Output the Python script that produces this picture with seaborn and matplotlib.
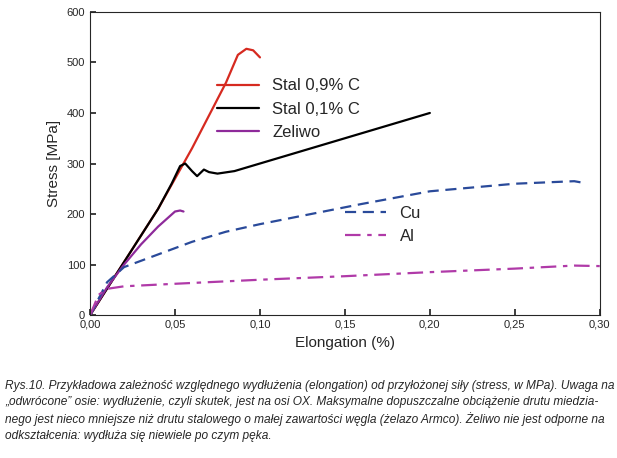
import matplotlib
matplotlib.use("Agg")
import matplotlib.pyplot as plt
import seaborn as sns

sns.set_theme(style="ticks")
plt.rcParams['font.family'] = ['Liberation Sans', 'DejaVu Sans']

# dane
st09_x = [0, 0.02, 0.04, 0.05, 0.06, 0.07, 0.08, 0.087, 0.092, 0.096, 0.1]
st09_y = [0, 105, 210, 270, 330, 395, 460, 515, 527, 524, 510]
st01_x = [0, 0.02, 0.04, 0.048, 0.053, 0.056, 0.06, 0.063, 0.067, 0.07, 0.075, 0.085, 0.1, 0.15, 0.2]
st01_y = [0, 105, 210, 260, 295, 300, 285, 275, 288, 283, 280, 285, 300, 350, 400]
zel_x = [0, 0.01, 0.02, 0.03, 0.04, 0.05, 0.053, 0.055]
zel_y = [0, 55, 100, 140, 175, 205, 207, 205]
cu_x = [0, 0.01, 0.02, 0.04, 0.06, 0.08, 0.1, 0.13, 0.16, 0.2, 0.25, 0.285, 0.29]
cu_y = [0, 65, 95, 120, 145, 165, 180, 200, 220, 245, 260, 265, 262]
al_x = [0, 0.005, 0.01, 0.02, 0.05, 0.1, 0.15, 0.2, 0.25, 0.285, 0.3]
al_y = [0, 40, 52, 57, 62, 70, 77, 85, 92, 98, 97]

fig = plt.figure(figsize=(6.17, 4.58), dpi=100)
ax = fig.add_axes([0.146, 0.312, 0.826, 0.662])

l1 = ax.plot(st09_x, st09_y, color='#d62a20', lw=1.6, label='Stal 0,9% C')[0]
l2 = ax.plot(st01_x, st01_y, color='black', lw=1.6, label='Stal 0,1% C')[0]
l3 = ax.plot(zel_x, zel_y, color='#8e2a9a', lw=1.6, label='Zeliwo')[0]
l4 = ax.plot(cu_x, cu_y, color='#2a4a9a', lw=1.6, ls=(0, (5, 3)), label='Cu')[0]
l5 = ax.plot(al_x, al_y, color='#b03aa8', lw=1.6, ls=(0, (7, 3, 2, 3)), label='Al')[0]

leg1 = ax.legend(handles=[l1, l2, l3], loc='upper left', bbox_to_anchor=(0.22, 0.83),
                 frameon=False, fontsize=12, handlelength=2.5)
ax.add_artist(leg1)
ax.legend(handles=[l4, l5], loc='upper left', bbox_to_anchor=(0.47, 0.41),
          frameon=False, fontsize=12, handlelength=2.5)

ax.set_xlim(0, 0.3)
ax.set_ylim(0, 600)
ax.set_xticks([0, 0.05, 0.1, 0.15, 0.2, 0.25, 0.3])
ax.set_xticklabels(['0,00', '0,05', '0,10', '0,15', '0,20', '0,25', '0,30'])
ax.set_yticks(range(0, 601, 100))
ax.tick_params(direction='in', labelsize=8, length=4)
ax.set_xlabel('Elongation (%)', fontsize=11)
ax.set_ylabel('Stress [MPa]', fontsize=11)
for s in ax.spines.values():
    s.set_linewidth(0.8)

caption = ("Rys.10. Przykładowa zależność względnego wydłużenia (elongation) od przyłożonej siły (stress, w MPa). Uwaga na\n"
           "„odwrócone\u201d osie: wydłużenie, czyli skutek, jest na osi OX. Maksymalne dopuszczalne obciążenie drutu miedzia-\n"
           "nego jest nieco mniejsze niż drutu stalowego o małej zawartości węgla (żelazo Armco). Żeliwo nie jest odporne na\n"
           "odkształcenia: wydłuża się niewiele po czym pęka.")
fig.text(0.008, 0.17, caption, fontsize=8.6, style='italic', va='top', ha='left', linespacing=1.4)

fig.savefig('out.png', dpi=100)
